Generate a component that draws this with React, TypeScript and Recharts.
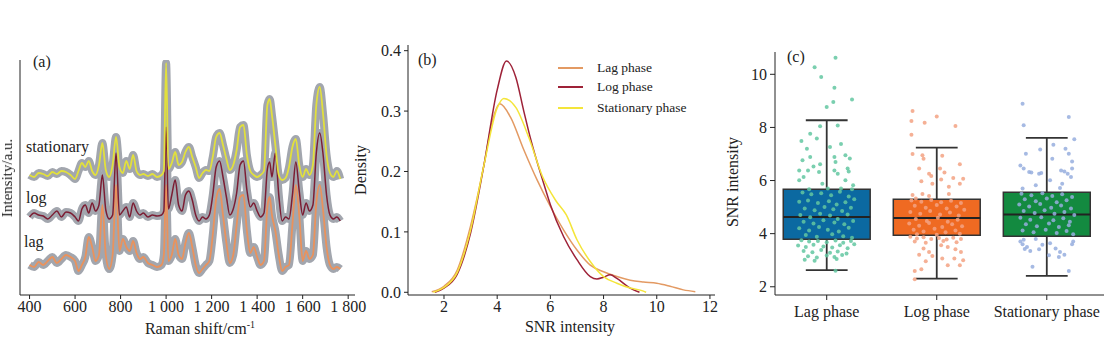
import React from 'react';
import {
  LineChart, Line, XAxis, YAxis, ComposedChart, Scatter, ReferenceArea, ReferenceLine,
} from 'recharts';

const SERIF = '"Liberation Serif", "Times New Roman", serif';
const INK = '#222';

// ---- (a) Raman spectra (intensity in arbitrary units, stacked offsets)
const RAMAN_SHIFT = [
  400, 420, 440, 460, 480, 500, 520, 540, 560, 580, 600, 615, 630, 645, 660, 675, 690, 705, 720, 735,
  750, 765, 780, 795, 810, 825, 840, 855, 870, 885, 900, 920, 940, 960, 980, 990, 1000, 1010, 1025, 1040,
  1055, 1070, 1085, 1100, 1115, 1130, 1145, 1160, 1175, 1190, 1205, 1220, 1235, 1250, 1265, 1280, 1295, 1310, 1325, 1340,
  1355, 1370, 1385, 1400, 1415, 1430, 1445, 1455, 1465, 1480, 1495, 1510, 1525, 1540, 1555, 1570, 1585, 1600, 1615, 1630,
  1645, 1660, 1675, 1690, 1705, 1720, 1735, 1750, 1765,
];
const STAT_SPEC = [
  120, 118, 122, 121, 119, 123, 121, 124, 123, 120, 116, 124, 132, 128, 134, 124, 120, 130, 152, 125,
  118, 130, 158, 128, 122, 134, 126, 140, 124, 120, 121, 119, 121, 118, 120, 124, 232, 126, 132, 143,
  130, 133, 143, 148, 138, 128, 117, 122, 125, 124, 138, 158, 162, 150, 136, 125, 130, 145, 168, 170,
  140, 124, 120, 118, 120, 124, 190, 196, 180, 150, 120, 115, 117, 128, 148, 156, 130, 118, 126, 120,
  130, 190, 208, 180, 140, 122, 118, 124, 116,
];
const LOG_SPEC = [
  78, 82, 80, 79, 76, 80, 84, 78, 83, 82, 78, 74, 86, 90, 82, 92, 84, 90, 120, 85,
  76, 80, 142, 80, 84, 88, 78, 92, 84, 80, 82, 78, 80, 79, 80, 84, 168, 86, 100, 115,
  90, 84, 100, 104, 95, 80, 74, 78, 76, 80, 100, 128, 134, 118, 98, 80, 86, 102, 130, 134,
  105, 88, 92, 84, 78, 82, 126, 133, 118, 142, 100, 74, 78, 76, 100, 133, 104, 80, 92, 84,
  90, 142, 162, 140, 100, 80, 76, 78, 74,
];
const LAG_SPEC = [
  30, 28, 33, 30, 34, 38, 32, 36, 40, 38, 34, 24, 30, 38, 58, 48, 34, 40, 90, 40,
  26, 40, 110, 44, 56, 48, 44, 54, 42, 36, 38, 32, 30, 28, 30, 40, 110, 34, 40, 56,
  40, 36, 52, 62, 48, 30, 22, 26, 30, 34, 60, 96, 106, 80, 52, 32, 40, 70, 98, 100,
  64, 42, 48, 38, 30, 34, 88, 98, 80, 64, 40, 24, 28, 30, 70, 110, 80, 34, 44, 36,
  40, 92, 110, 84, 48, 30, 26, 28, 26,
];
const RAMAN_TICKS = [400, 600, 800, 1000, 1200, 1400, 1600, 1800];

// ---- (b) SNR density curves
const LAG_DENS_X = [1.54, 2, 2.5, 3, 3.5, 3.8, 4.1, 4.5, 5, 5.5, 6, 6.5, 7, 7.5, 8, 8.5, 9, 9.5, 10, 10.5, 11, 11.45];
const LAG_DENS_Y = [0.001, 0.01, 0.037, 0.11, 0.21, 0.28, 0.312, 0.29, 0.236, 0.186, 0.142, 0.103, 0.07, 0.045, 0.034, 0.026, 0.02, 0.017, 0.015, 0.01, 0.004, 0.001];
const LOG_DENS_X = [1.66, 2, 2.5, 3, 3.5, 4, 4.35, 4.7, 5, 5.25, 5.75, 6, 6.5, 7, 7.5, 7.75, 8, 8.25, 8.5, 9, 9.35];
const LOG_DENS_Y = [0, 0.007, 0.03, 0.098, 0.21, 0.335, 0.383, 0.356, 0.3, 0.255, 0.18, 0.145, 0.092, 0.054, 0.026, 0.022, 0.025, 0.029, 0.023, 0.007, 0];
const STAT_DENS_X = [1.6, 2, 2.5, 3, 3.5, 4, 4.25, 4.7, 5.2, 5.7, 6.2, 6.6, 7, 7.5, 8, 8.5, 9, 9.5, 9.6];
const STAT_DENS_Y = [0, 0.008, 0.033, 0.103, 0.21, 0.305, 0.321, 0.306, 0.255, 0.192, 0.152, 0.128, 0.087, 0.051, 0.026, 0.015, 0.007, 0.002, 0];
const DENS_X_TICKS = [2, 4, 6, 8, 10, 12];
const DENS_Y_TICKS = [0, 0.1, 0.2, 0.3, 0.4];

// ---- (c) box plots
const PHASES = ['Lag phase', 'Log phase', 'Stationary phase'];
const BOX_LOW = [2.63, 2.31, 2.41];
const BOX_Q1 = [3.79, 3.94, 3.9];
const BOX_MEDIAN = [4.63, 4.59, 4.72];
const BOX_Q3 = [5.67, 5.3, 5.56];
const BOX_HIGH = [8.27, 7.24, 7.61];
const SNR_TICKS = [2, 4, 6, 8, 10];

// jittered points: [offset from group centre, SNR]
const LAG_POINTS = [
  [0.08, 10.62], [-0.11, 10.27], [-0.05, 9.9], [0.07, 9.49], [0.23, 9.05], [0.06, 8.96], [0.0, 8.77],
  [-0.06, 8.04], [0.1, 8.07], [-0.15, 7.76], [-0.23, 7.49], [-0.09, 7.58], [-0.18, 7.2], [0.13, 7.38],
  [0.03, 7.26], [-0.15, 6.89], [-0.22, 6.76], [0.07, 6.89], [0.17, 6.95], [0.21, 6.83], [-0.06, 6.61],
  [0.08, 6.7], [-0.12, 6.53], [-0.25, 6.38], [-0.17, 6.38], [-0.07, 6.32], [0.07, 6.38], [0.19, 6.45],
  [0.2, 6.34], [-0.21, 6.13], [-0.25, 6.01], [-0.04, 5.88], [0.1, 6.26], [0.17, 6.01], [0.24, 5.82],
  [-0.16, 5.67], [0.01, 5.7], [0.13, 5.7], [0.23, 5.67],
  [-0.22, 5.55], [-0.14, 5.48], [-0.05, 5.52], [0.04, 5.45], [0.12, 5.58], [0.2, 5.4], [0.25, 5.3],
  [-0.25, 5.2], [-0.17, 5.25], [-0.08, 5.15], [0.02, 5.22], [0.09, 5.1], [0.17, 5.18], [-0.2, 4.95],
  [-0.11, 4.88], [-0.02, 5.0], [0.06, 4.92], [0.14, 4.85], [0.22, 4.98], [-0.24, 4.7], [-0.15, 4.62],
  [-0.06, 4.75], [0.03, 4.68], [0.1, 4.55], [0.19, 4.72], [-0.21, 4.45], [-0.12, 4.38], [-0.03, 4.5],
  [0.07, 4.42], [0.16, 4.35], [0.24, 4.48], [-0.25, 4.2], [-0.16, 4.12], [-0.07, 4.25], [0.01, 4.15],
  [0.11, 4.08], [0.2, 4.22], [-0.19, 3.95], [-0.09, 3.88], [0.05, 3.98], [0.15, 3.9], [0.23, 3.85],
  [-0.23, 3.75], [-0.16, 3.7], [-0.08, 3.72], [0.0, 3.68], [0.08, 3.74], [0.15, 3.66], [0.22, 3.72],
  [-0.26, 3.55], [-0.19, 3.5], [-0.12, 3.58], [-0.03, 3.52], [0.05, 3.48], [0.12, 3.56], [0.19, 3.45],
  [0.25, 3.6], [-0.21, 3.35], [-0.13, 3.3], [-0.05, 3.38], [0.03, 3.28], [0.1, 3.33], [0.18, 3.25],
  [-0.17, 3.15], [-0.09, 3.1], [0.0, 3.18], [0.07, 3.12], [0.14, 3.2], [-0.2, 3.02], [-0.11, 2.98],
  [0.09, 3.05], [0.08, 2.6],
];
const LOG_POINTS = [
  [-0.22, 8.62], [-0.23, 8.24], [-0.11, 8.18], [0.0, 8.41], [0.17, 8.05], [-0.23, 7.72], [-0.22, 7.0],
  [-0.13, 6.95], [-0.12, 6.82], [0.05, 6.93], [0.21, 6.61], [-0.16, 6.45], [-0.07, 6.26], [0.03, 6.45],
  [0.07, 6.3], [-0.05, 6.17], [0.15, 6.1], [0.24, 6.07], [-0.14, 5.97], [-0.04, 5.88], [0.04, 6.04],
  [0.11, 5.77], [0.21, 5.88], [-0.22, 5.46], [-0.13, 5.49], [-0.07, 5.42], [0.11, 5.49], [-0.19, 5.32],
  [-0.23, 5.25], [-0.14, 5.2], [-0.05, 5.27], [0.04, 5.18], [0.13, 5.24], [0.22, 5.15], [-0.2, 5.05],
  [-0.1, 4.98], [0.0, 5.08], [0.09, 4.95], [0.18, 5.02], [0.25, 4.9], [-0.24, 4.82], [-0.15, 4.75],
  [-0.06, 4.85], [0.03, 4.72], [0.12, 4.8], [0.2, 4.68], [-0.19, 4.55], [-0.09, 4.48], [0.01, 4.6],
  [0.1, 4.45], [0.19, 4.52], [-0.25, 4.38], [-0.16, 4.3], [-0.07, 4.4], [0.05, 4.25], [0.14, 4.35],
  [0.23, 4.28], [-0.21, 4.15], [-0.12, 4.08], [-0.02, 4.18], [0.08, 4.05], [0.17, 4.12], [-0.18, 3.98],
  [0.0, 3.96], [0.21, 4.0], [-0.24, 3.88], [-0.18, 3.82], [-0.12, 3.86], [-0.05, 3.8], [0.02, 3.84],
  [0.09, 3.78], [0.15, 3.85], [0.22, 3.8], [-0.2, 3.7], [-0.1, 3.66], [0.06, 3.72], [0.18, 3.68],
  [-0.12, 3.44], [-0.07, 3.31], [0.04, 3.56], [0.1, 3.5], [0.17, 3.41], [0.22, 3.31], [-0.16, 3.21],
  [-0.04, 3.16], [0.05, 3.06], [0.16, 3.06], [-0.1, 2.96], [0.24, 3.0], [0.21, 2.81], [-0.14, 2.66],
  [-0.2, 2.59], [0.1, 2.81], [-0.2, 2.28],
];
const STAT_POINTS = [
  [-0.22, 8.89], [0.2, 8.39], [-0.21, 8.08], [0.25, 7.55], [-0.19, 7.01], [-0.06, 7.17], [0.06, 7.35],
  [0.17, 7.2], [0.2, 7.01], [0.05, 6.82], [0.23, 6.72], [-0.24, 6.57], [-0.21, 6.45], [-0.16, 6.32],
  [-0.14, 6.3], [-0.07, 6.26], [-0.05, 6.28], [0.13, 6.38], [0.16, 6.34], [0.19, 6.26], [0.23, 6.45],
  [0.03, 6.01], [0.14, 5.88], [0.22, 6.13], [-0.1, 5.82], [-0.22, 5.7], [0.12, 5.72],
  [-0.23, 5.5], [-0.14, 5.45], [-0.04, 5.52], [0.05, 5.42], [0.14, 5.48], [0.23, 5.38], [-0.2, 5.3],
  [-0.1, 5.22], [0.0, 5.32], [0.09, 5.18], [0.18, 5.26], [-0.25, 5.1], [-0.16, 5.02], [-0.06, 5.12],
  [0.04, 4.98], [0.13, 5.06], [0.22, 4.95], [-0.21, 4.85], [-0.11, 4.78], [-0.02, 4.88], [0.07, 4.75],
  [0.16, 4.82], [0.25, 4.7], [-0.24, 4.6], [-0.15, 4.52], [-0.05, 4.62], [0.06, 4.5], [0.15, 4.58],
  [0.21, 4.45], [-0.19, 4.35], [-0.09, 4.28], [0.02, 4.38], [0.11, 4.25], [0.2, 4.32], [-0.22, 4.12],
  [-0.12, 4.05], [-0.01, 4.15], [0.09, 4.02], [0.18, 4.1], [0.24, 3.98],
  [-0.24, 3.7], [-0.22, 3.6], [-0.18, 3.5], [-0.21, 3.77], [-0.1, 3.8], [-0.04, 3.58], [-0.07, 3.41],
  [0.03, 3.64], [0.08, 3.44], [0.12, 3.31], [0.16, 3.21], [0.23, 3.6], [0.24, 3.7], [0.02, 3.19],
  [0.11, 3.12], [-0.15, 3.35], [-0.2, 3.42], [-0.13, 2.75], [0.2, 2.59],
];

const spectraRows = RAMAN_SHIFT.map((shift, i) => ({
  shift, stat: STAT_SPEC[i], log: LOG_SPEC[i], lag: LAG_SPEC[i],
}));
const toXY = (xs: number[], ys: number[]) => xs.map((x, i) => ({ x, y: ys[i] }));
const toPoints = (pts: number[][], group: number) => pts.map(([dx, v]) => ({ x: group + 1 + dx, y: v }));

const fmtThousands = (v: number) => (v >= 1000 ? `${Math.floor(v / 1000)} ${String(v % 1000).padStart(3, '0')}` : String(v));

const tickStyle = { fontSize: 16, fill: INK, fontFamily: SERIF };
const chartStyle = { fontFamily: SERIF };

const Dot = (color: string) => (props: any) => (
  <circle cx={props.cx} cy={props.cy} r={2} fill={color} fillOpacity={0.85} />
);

const txt = (extra: React.CSSProperties): React.CSSProperties => ({
  position: 'absolute', fontFamily: SERIF, fontSize: 16, color: INK, lineHeight: '16px', whiteSpace: 'nowrap', ...extra,
});

const BAND = '#a2a6ae';
const BOX_FILL = ['#0b69a1', '#ef6a22', '#138a40'];
const PT_COLOR = ['#63c7a1', '#f3a283', '#97aede'];

export default function App() {
  return (
    <div style={{ position: 'fixed', left: 0, top: 0, width: 1106, height: 351, background: '#fff', fontFamily: SERIF }}>
      {/* (a) */}
      <div style={{ position: 'absolute', left: 0, top: 0 }}>
        <LineChart width={370} height={351} data={spectraRows} margin={{ top: 60, right: 15, bottom: 0, left: 0 }} style={chartStyle}>
          <XAxis dataKey="shift" type="number" domain={[358, 1830]} ticks={RAMAN_TICKS} tickFormatter={fmtThousands}
            allowDataOverflow height={56} tick={tickStyle} fontFamily={SERIF} tickSize={4} tickMargin={2} stroke={INK} interval={0} />
          <YAxis type="number" domain={[0, 235]} allowDataOverflow width={20} tick={false} tickLine={false} stroke={INK} />
          <Line dataKey="lag" type="monotone" stroke={BAND} strokeWidth={8} dot={false} isAnimationActive={false} strokeLinejoin="round" />
          <Line dataKey="log" type="monotone" stroke={BAND} strokeWidth={8} dot={false} isAnimationActive={false} strokeLinejoin="round" />
          <Line dataKey="stat" type="monotone" stroke={BAND} strokeWidth={8} dot={false} isAnimationActive={false} strokeLinejoin="round" />
          <Line dataKey="lag" type="monotone" stroke="#ea925c" strokeWidth={1.8} dot={false} isAnimationActive={false} />
          <Line dataKey="log" type="monotone" stroke="#7c1d33" strokeWidth={1.5} dot={false} isAnimationActive={false} />
          <Line dataKey="stat" type="monotone" stroke="#e2e03c" strokeWidth={1.8} dot={false} isAnimationActive={false} />
        </LineChart>
      </div>
      <div style={txt({ left: 33, top: 54 })}>(a)</div>
      <div style={txt({ left: 26, top: 139 })}>stationary</div>
      <div style={txt({ left: 26, top: 190 })}>log</div>
      <div style={txt({ left: 24, top: 234 })}>lag</div>
      <div style={txt({ left: 7, top: 178, transform: 'translate(-50%, -50%) rotate(-90deg)', fontSize: 15 })}>Intensity/a.u.</div>
      <div style={txt({ left: 200, top: 327, transform: 'translate(-50%, -50%)' })}>Raman shift/cm<sup style={{ fontSize: 10 }}>-1</sup></div>

      {/* (b) */}
      <div style={{ position: 'absolute', left: 370, top: 0 }}>
        <LineChart width={360} height={351} margin={{ top: 45, right: 15, bottom: 0, left: 0 }} style={chartStyle}>
          <XAxis dataKey="x" type="number" domain={[0.647, 12.19]} ticks={DENS_X_TICKS} allowDataOverflow
            height={56} tick={tickStyle} fontFamily={SERIF} tickSize={4} tickMargin={2} stroke={INK} interval={0} />
          <YAxis type="number" domain={[-0.0045, 0.4094]} ticks={DENS_Y_TICKS} allowDataOverflow width={38}
            tick={tickStyle} fontFamily={SERIF} tickSize={4} tickMargin={3} stroke={INK} tickFormatter={(v: number) => v.toFixed(1)} interval={0} />
          <Line data={toXY(LAG_DENS_X, LAG_DENS_Y)} dataKey="y" type="monotone" stroke="#e39a63" strokeWidth={1.5} dot={false} isAnimationActive={false} />
          <Line data={toXY(LOG_DENS_X, LOG_DENS_Y)} dataKey="y" type="monotone" stroke="#9e2238" strokeWidth={1.5} dot={false} isAnimationActive={false} />
          <Line data={toXY(STAT_DENS_X, STAT_DENS_Y)} dataKey="y" type="monotone" stroke="#f4e53a" strokeWidth={1.5} dot={false} isAnimationActive={false} />
        </LineChart>
      </div>
      <div style={txt({ left: 418, top: 52 })}>(b)</div>
      <div style={txt({ left: 361, top: 170, transform: 'translate(-50%, -50%) rotate(-90deg)' })}>Density</div>
      <div style={txt({ left: 570, top: 327, transform: 'translate(-50%, -50%)' })}>SNR intensity</div>
      {[['Lag phase', '#e39a63'], ['Log phase', '#9e2238'], ['Stationary phase', '#f4e53a']].map(([name, color], i) => (
        <div key={name} style={{ position: 'absolute', left: 558, top: [68, 87, 108][i] - 8, height: 16, display: 'flex', alignItems: 'center' }}>
          <div style={{ width: 25, height: 2, background: color }} />
          <div style={txt({ position: 'static', fontSize: 13.5, marginLeft: 14 })}>{name}</div>
        </div>
      ))}

      {/* (c) */}
      <div style={{ position: 'absolute', left: 730, top: 0 }}>
        <ComposedChart width={376} height={351} margin={{ top: 52, right: 2, bottom: 0, left: 0 }} style={chartStyle}>
          <XAxis dataKey="x" type="number" domain={[0.53, 3.52]} ticks={[1, 2, 3]} allowDataOverflow
            tickFormatter={(v: number) => PHASES[v - 1]} height={56} tick={tickStyle} fontFamily={SERIF} tickSize={5} tickMargin={6} stroke={INK} interval={0} />
          <YAxis dataKey="y" type="number" domain={[1.69, 10.84]} ticks={SNR_TICKS} allowDataOverflow width={45}
            tick={tickStyle} fontFamily={SERIF} tickSize={5} tickMargin={3} stroke={INK} interval={0} />
          {PHASES.map((p, i) => (
            <ReferenceLine key={p + 'w1'} segment={[{ x: i + 1, y: BOX_Q3[i] }, { x: i + 1, y: BOX_HIGH[i] }]} stroke="#333" strokeWidth={1.8} />
          ))}
          {PHASES.map((p, i) => (
            <ReferenceLine key={p + 'w2'} segment={[{ x: i + 1, y: BOX_LOW[i] }, { x: i + 1, y: BOX_Q1[i] }]} stroke="#333" strokeWidth={1.8} />
          ))}
          {PHASES.map((p, i) => (
            <ReferenceLine key={p + 'c1'} segment={[{ x: i + 0.81, y: BOX_HIGH[i] }, { x: i + 1.19, y: BOX_HIGH[i] }]} stroke="#333" strokeWidth={1.8} />
          ))}
          {PHASES.map((p, i) => (
            <ReferenceLine key={p + 'c2'} segment={[{ x: i + 0.81, y: BOX_LOW[i] }, { x: i + 1.19, y: BOX_LOW[i] }]} stroke="#333" strokeWidth={1.8} />
          ))}
          {PHASES.map((p, i) => (
            <ReferenceArea key={p + 'box'} x1={i + 0.605} x2={i + 1.395} y1={BOX_Q1[i]} y2={BOX_Q3[i]}
              fill={BOX_FILL[i]} fillOpacity={1} stroke="#333" strokeWidth={1.5} />
          ))}
          {PHASES.map((p, i) => (
            <ReferenceLine key={p + 'med'} segment={[{ x: i + 0.605, y: BOX_MEDIAN[i] }, { x: i + 1.395, y: BOX_MEDIAN[i] }]} stroke="#222" strokeWidth={2} />
          ))}
          <Scatter data={toPoints(LAG_POINTS, 0)} shape={Dot(PT_COLOR[0])} isAnimationActive={false} />
          <Scatter data={toPoints(LOG_POINTS, 1)} shape={Dot(PT_COLOR[1])} isAnimationActive={false} />
          <Scatter data={toPoints(STAT_POINTS, 2)} shape={Dot(PT_COLOR[2])} isAnimationActive={false} />
        </ComposedChart>
      </div>
      <div style={txt({ left: 787, top: 49 })}>(c)</div>
      <div style={txt({ left: 733, top: 182, transform: 'translate(-50%, -50%) rotate(-90deg)' })}>SNR intensity</div>
    </div>
  );
}
